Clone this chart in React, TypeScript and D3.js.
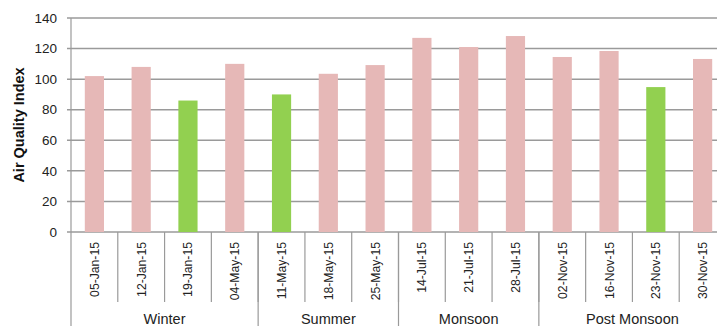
import React from "react";
import * as d3 from "d3";

const categories = [
  "05-Jan-15", "12-Jan-15", "19-Jan-15", "04-May-15",
  "11-May-15", "18-May-15", "25-May-15",
  "14-Jul-15", "21-Jul-15", "28-Jul-15",
  "02-Nov-15", "16-Nov-15", "23-Nov-15", "30-Nov-15",
];
const values = [102, 108, 86, 110, 90, 103.5, 109.2, 127, 121, 128.2, 114.5, 118.4, 94.8, 113.2];
const highlight = [false, false, true, false, true, false, false, false, false, false, false, false, true, false];
const groups = ["Winter", "Summer", "Monsoon", "Post Monsoon"];
const groupSizes = [4, 3, 3, 4];
const yTicks = [0, 20, 40, 60, 80, 100, 120, 140];
const yTitle = "Air Quality Index";

const W = 717, H = 326;
const left = 71, right = 726, top = 18, bottom = 232;
const FONT = "'Liberation Sans', Arial, sans-serif";

export default function App() {
  const x = d3.scaleBand<string>().domain(categories).range([left, right]).paddingInner(0.59).paddingOuter(0.295);
  const y = d3.scaleLinear().domain([0, 140]).range([bottom, top]);
  const step = x.step();
  const boundaries: number[] = [0];
  groupSizes.reduce((acc, s) => { boundaries.push(acc + s); return acc + s; }, 0);
  return (
    <svg width={W} height={H} style={{ position: "absolute", left: 0, top: 0 }} fontFamily={FONT}>
      <rect width={W} height={H} fill="#fff" />
      {yTicks.map((t) => (
        <g key={t}>
          <line x1={left - 4} x2={right} y1={y(t)} y2={y(t)} stroke="#9a9a9a" strokeWidth={1.5} />
          <text x={57} y={y(t)} dy="0.35em" textAnchor="end" fontSize={13.5} fill="#222">{t}</text>
        </g>
      ))}
      <line x1={left} x2={left} y1={top} y2={H} stroke="#9a9a9a" strokeWidth={1.2} />
      {categories.map((c, i) => (
        <rect key={c} x={x(c)} y={y(values[i])} width={x.bandwidth()} height={bottom - y(values[i])}
          fill={highlight[i] ? "#92D050" : "#E6B8B7"} />
      ))}
      {categories.map((c, i) => (
        <g key={"t" + c}>
          {i > 0 && <line x1={left + i * step} x2={left + i * step} y1={bottom} y2={302} stroke="#9a9a9a" strokeWidth={1.2} />}
          <text transform={`translate(${(x(c) as number) + x.bandwidth() / 2 + 4.5},${242}) rotate(-90)`}
            textAnchor="end" fontSize={12.2} fill="#222">{c}</text>
        </g>
      ))}
      {boundaries.slice(1, -1).map((b) => (
        <line key={"b" + b} x1={left + b * step} x2={left + b * step} y1={bottom} y2={H} stroke="#9a9a9a" strokeWidth={1.2} />
      ))}
      {groups.map((g, gi) => {
        const cx = left + ((boundaries[gi] + boundaries[gi + 1]) / 2) * step;
        return <text key={g} x={cx} y={324} textAnchor="middle" fontSize={14.5} fill="#222">{g}</text>;
      })}
      <text transform={`translate(24,${(top + bottom) / 2}) rotate(-90)`} textAnchor="middle" fontSize={14.5} fontWeight="bold" fill="#111">{yTitle}</text>
    </svg>
  );
}
